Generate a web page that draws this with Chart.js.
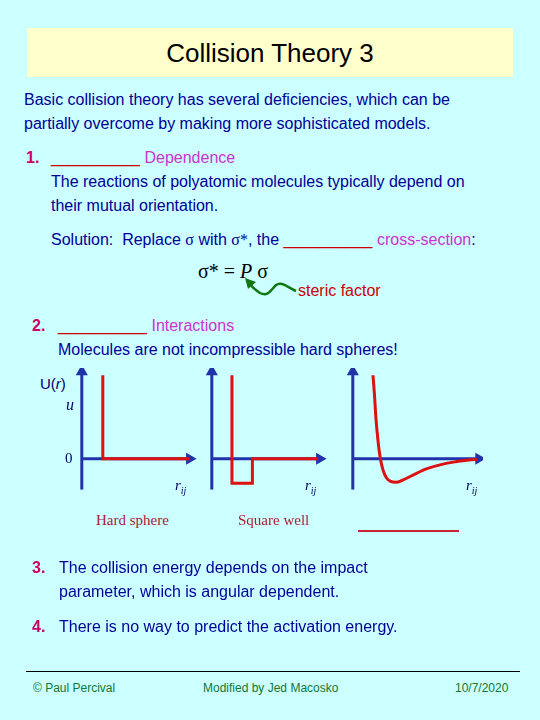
<!DOCTYPE html>
<html>
<head>
<meta charset="utf-8">
<script src="https://cdn.jsdelivr.net/npm/chart.js@4"></script>
<style>
  body { margin: 0; }
  #slide { position: relative; width: 540px; height: 720px; background: #ccffff; font-family: Arial, "Liberation Sans", sans-serif; overflow: hidden; }
  .t { position: absolute; white-space: nowrap; font-size: 16px; color: #000099; line-height: 1; }
  .red { color: #cc0000; }
  .mag { color: #cc33cc; }
  .num { color: #cc0066; font-weight: bold; }
  .serif { font-family: "Times New Roman", "Liberation Serif", serif; }
  canvas { position: absolute; }
</style>
</head>
<body>
<div id="slide">
  <div style="position:absolute;left:27px;top:28px;width:486px;height:49px;background:#ffffcc;"></div>
  <div class="t" style="left:27px;width:486px;top:40px;text-align:center;font-size:26px;color:#000;">Collision Theory 3</div>

  <div class="t" style="left:24px;top:92px;">Basic collision theory has several deficiencies, which can be</div>
  <div class="t" style="left:24px;top:116px;">partially overcome by making more sophisticated models.</div>

  <div class="t num" style="left:26px;top:150px;">1.</div>
  <div class="t mag" style="left:51px;top:150px;"><span class="red">__________</span> Dependence</div>
  <div class="t" style="left:51px;top:174px;">The reactions of polyatomic molecules typically depend on</div>
  <div class="t" style="left:51px;top:198px;">their mutual orientation.</div>

  <div class="t" style="left:51px;top:232px;">Solution:&nbsp; Replace <span class="serif">σ</span> with <span class="serif">σ*</span>, the <span class="red">__________</span> <span class="mag">cross-section</span>:</div>
  <div class="t serif" style="left:198px;top:261px;font-size:20px;color:#000;">σ* = <i>P</i> σ</div>
  <div class="t red" style="left:298px;top:283px;">steric factor</div>
  <svg style="position:absolute;left:242px;top:277px;" width="60" height="30">
    <path d="M54 14 C45 10 40 4 34 8 C28 14 26 20 18 16 C12 12 10 10 8 7" stroke="#117711" stroke-width="2.5" fill="none"/>
    <path d="M3 1 L14 5 L6 12 Z" fill="#117711"/>
  </svg>

  <div class="t num" style="left:32px;top:318px;">2.</div>
  <div class="t mag" style="left:58px;top:318px;"><span class="red">__________</span> Interactions</div>
  <div class="t" style="left:58px;top:342px;">Molecules are not incompressible hard spheres!</div>

  <canvas id="c1" width="140" height="127" style="left:72px;top:368px;width:140px;height:127px;"></canvas>
  <canvas id="c2" width="140" height="127" style="left:202px;top:368px;width:140px;height:127px;"></canvas>
  <canvas id="c3" width="140" height="127" style="left:343px;top:368px;width:140px;height:127px;"></canvas>

  <div class="t" style="left:40px;top:376px;font-size:15px;color:#000066;">U(<i>r</i>)</div>
  <div class="t serif" style="left:66px;top:397px;font-size:16px;color:#000066;"><i>u</i></div>
  <div class="t serif" style="left:65px;top:451px;font-size:15px;color:#000066;">0</div>
  <div class="t serif" style="left:175px;top:478px;font-size:15px;color:#000066;"><i>r<sub style="font-size:10px">ij</sub></i></div>
  <div class="t serif" style="left:305px;top:478px;font-size:15px;color:#000066;"><i>r<sub style="font-size:10px">ij</sub></i></div>
  <div class="t serif" style="left:466px;top:478px;font-size:15px;color:#000066;"><i>r<sub style="font-size:10px">ij</sub></i></div>
  <div class="t serif" style="left:96px;top:513px;font-size:15px;color:#aa2233;">Hard sphere</div>
  <div class="t serif" style="left:238px;top:513px;font-size:15px;color:#aa2233;">Square well</div>
  <div style="position:absolute;left:358px;top:530px;width:101px;height:2px;background:#cc2233;"></div>

  <div class="t num" style="left:32px;top:560px;">3.</div>
  <div class="t" style="left:59px;top:560px;">The collision energy depends on the impact</div>
  <div class="t" style="left:59px;top:584px;">parameter, which is angular dependent.</div>
  <div class="t num" style="left:32px;top:619px;">4.</div>
  <div class="t" style="left:59px;top:619px;">There is no way to predict the activation energy.</div>

  <div style="position:absolute;left:26px;top:671px;width:494px;height:1px;background:#000;"></div>
  <div class="t" style="left:33px;top:682px;font-size:12px;color:#117733;">© Paul Percival</div>
  <div class="t" style="left:203px;top:682px;font-size:12px;color:#117733;">Modified by Jed Macosko</div>
  <div class="t" style="left:455px;top:682px;font-size:12px;color:#117733;">10/7/2020</div>
</div>
<script>
// axes (same for all three sketches)
const axisYx = [7, 7];
const axisYy = [-34, 96];
const axisXx = [7, 84];
const axisXy = [0, 0];
const axisX3 = [7, 97];

// hard sphere potential
const hardR = [22, 22, 84];
const hardU = [92, 0, 0];

// square well potential
const wellR = [21.4, 21.4, 36, 36, 83];
const wellU = [92, -27, -27, 0, 0];

// realistic (Lennard-Jones like) potential
const ljR = [21.4, 22.5, 23.5, 25, 26.5, 28.5, 31, 34, 38, 42, 50, 60, 70, 80, 90, 96];
const ljU = [92, 70, 45, 20, 2, -12, -21, -25, -26, -24, -18, -11, -6.5, -3.5, -1.5, -0.5];

const blue = '#2233aa';
const red = '#dd1111';

function pts(xs, ys) {
    return xs.map((x, i) => ({ x: x, y: ys[i] }));
}

function axisSets(xEnd) {
    return [
        { data: pts(axisYx, axisYy), borderColor: blue, borderWidth: 3,
          pointStyle: 'triangle', pointRadius: [0, 4], pointRotation: 0,
          backgroundColor: blue, pointBorderColor: blue },
        { data: pts(xEnd, axisXy), borderColor: blue, borderWidth: 3,
          pointStyle: 'triangle', pointRadius: [0, 4], pointRotation: 90,
          backgroundColor: blue, pointBorderColor: blue }
    ];
}

function makeChart(id, xEnd, r, u, smooth) {
    // curve first so it is painted on top of the axes
    const curve = { data: pts(r, u), borderColor: red, borderWidth: 3, pointRadius: 0,
                    tension: smooth ? 0.4 : 0, cubicInterpolationMode: smooth ? 'monotone' : 'default' };
    new Chart(document.getElementById(id), {
        type: 'scatter',
        data: { datasets: [curve, ...axisSets(xEnd)] },
        options: {
            responsive: false, animation: false, showLine: true,
            layout: { padding: 0, autoPadding: false },
            clip: false,
            plugins: { legend: { display: false }, tooltip: { enabled: false } },
            scales: {
                x: { display: false, min: 0, max: 100 },
                y: { display: false, min: -40, max: 100 }
            }
        }
    });
}

makeChart('c1', axisXx, hardR, hardU, false);
makeChart('c2', axisXx, wellR, wellU, false);
makeChart('c3', axisX3, ljR, ljU, true);
</script>
</body>
</html>
